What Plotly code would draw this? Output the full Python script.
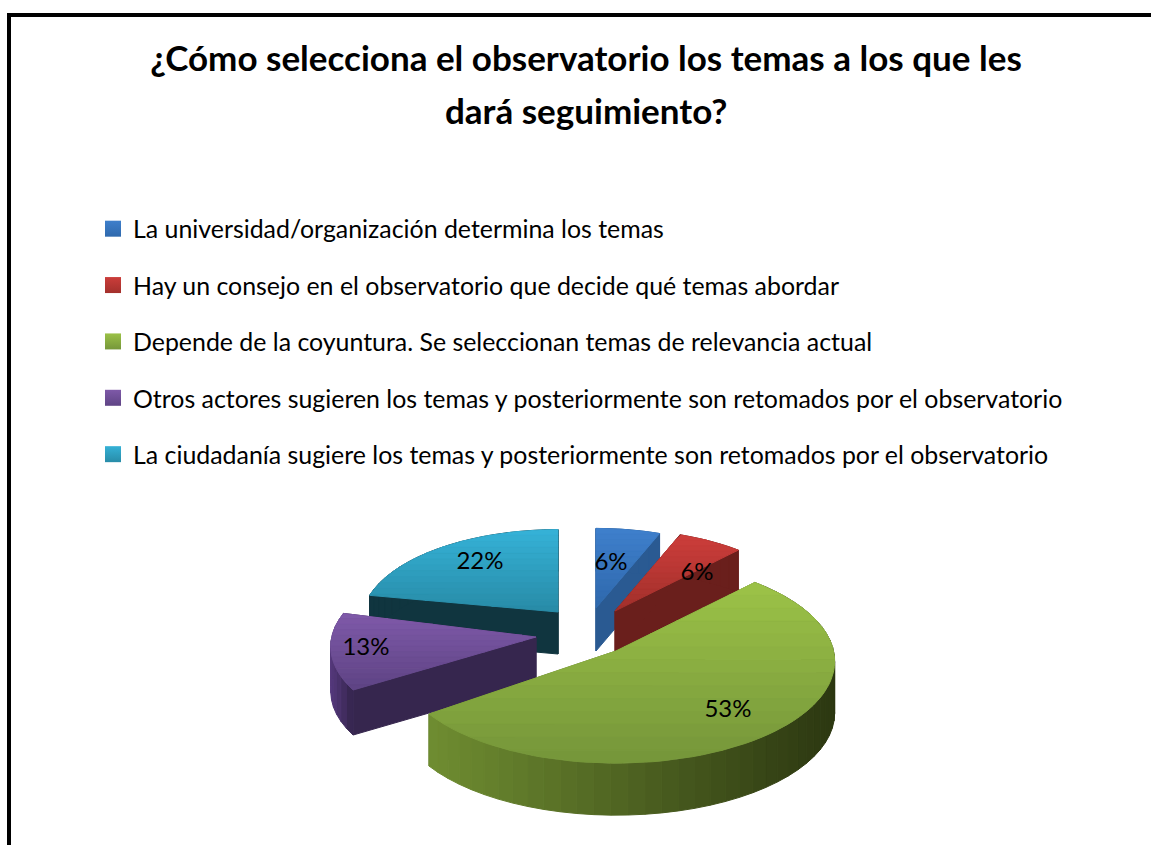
import numpy as np
import plotly.graph_objects as go

TITLE_LINE_1 = "¿Cómo selecciona el observatorio los temas a los que les"
TITLE_LINE_2 = "dará seguimiento?"
categories = [
    "La universidad/organización determina los temas",
    "Hay un consejo en el observatorio que decide qué temas abordar",
    "Depende de la coyuntura. Se seleccionan temas de relevancia actual",
    "Otros actores sugieren los temas y posteriormente son retomados por el observatorio",
    "La ciudadanía sugiere los temas y posteriormente son retomados por el observatorio",
]
values = [6, 6, 53, 13, 22]
labels = ["6%", "6%", "53%", "13%", "22%"]

top_light = ["#3E7FCB", "#CB3D3A", "#9BC147", "#7E59A8", "#35B1D6"]
top_dark = ["#2F69AD", "#A3302C", "#76973A", "#5F4485", "#288CA8"]
wall_cut = ["#2A5A92", "#6A1F1C", "#5A7228", "#36264E", "#10353F"]
wall_right = ["#2A5A92", "#6A1F1C", "#2C3711", "#33244B", "#10353F"]
wall_left = ["#2A5A92", "#6A1F1C", "#6F8D31", "#56397D", "#10353F"]

# projection and exploded layout of each slice (pixel frame of the page)
apex_x = [596, 615, 616, 536, 558]
apex_y = [608, 611, 651, 637, 612]
scale = [0.85, 0.87, 0.98, 0.92, 0.88]
turn = [0, 0, 0, 4, 0]
depth = [43, 42, 52, 45, 42]
label_dx = [15, 82, 112, -170, -78]
label_dy = [-44, -37, 60, 12, -49]
RX, RY, K = 222.0, 103.0, 0.1
DRAW_ORDER = [4, 0, 1, 3, 2]


def hex_rgb(c):
    return np.array([int(c[i:i + 2], 16) for i in (1, 3, 5)], float)


def mix(a, b, t):
    v = hex_rgb(a) * (1 - t) + hex_rgb(b) * t
    return "rgb(%d,%d,%d)" % tuple(np.round(v))


def project(i, ang_deg):
    a = np.radians(ang_deg + turn[i])
    X, Y = np.sin(a), np.cos(a)
    w = 1 + K * Y
    return apex_x[i] + scale[i] * RX * X / w, apex_y[i] - scale[i] * RY * Y / w


def clip_band(poly, y0, y1):
    def clip(pts, inside, cross):
        out = []
        for j in range(len(pts)):
            p, q = pts[j], pts[(j + 1) % len(pts)]
            if inside(p):
                out.append(p)
            if inside(p) != inside(q):
                out.append(cross(p, q))
        return out

    def at(yv):
        return lambda p, q: (p[0] + (yv - p[1]) / (q[1] - p[1]) * (q[0] - p[0]), yv)

    pts = clip(poly, lambda p: p[1] >= y0, at(y0))
    if pts:
        pts = clip(pts, lambda p: p[1] <= y1, at(y1))
    return pts


fig = go.Figure()


def add_poly(pts, color):
    xs = [p[0] for p in pts] + [pts[0][0]]
    ys = [p[1] for p in pts] + [pts[0][1]]
    fig.add_trace(go.Scatter(x=xs, y=ys, mode="lines", fill="toself", fillcolor=color,
                             line=dict(color=color, width=1), hoverinfo="skip", showlegend=False))


edges = np.concatenate([[0], np.cumsum(values)]) / sum(values) * 360.0

for i in DRAW_ORDER:
    a0, a1 = edges[i], edges[i + 1]
    d = depth[i]
    apex = (apex_x[i], apex_y[i])
    for ang in (a1, a0):
        p = project(i, ang)
        add_poly([apex, p, (p[0], p[1] + d), (apex[0], apex[1] + d)], wall_cut[i])
    nseg = max(6, int((a1 - a0) / 4))
    steps = np.linspace(a0, a1, nseg + 1)
    arc = [project(i, a) for a in np.linspace(a0, a1, 80)]
    xmin, xmax = min(p[0] for p in arc), max(p[0] for p in arc)
    for s in range(nseg):
        p, q = project(i, steps[s]), project(i, steps[s + 1])
        t = ((p[0] + q[0]) / 2 - xmin) / max(xmax - xmin, 1)
        add_poly([p, q, (q[0], q[1] + d), (p[0], p[1] + d)], mix(wall_left[i], wall_right[i], t))
    top = [apex] + arc
    ymin, ymax = min(p[1] for p in top), max(p[1] for p in top)
    bands = 14
    yb = np.linspace(ymin, ymax, bands + 1)
    for b in range(bands):
        piece = clip_band(top, yb[b], yb[b + 1])
        if len(piece) >= 3:
            add_poly(piece, mix(top_light[i], top_dark[i], b / (bands - 1)))

# value labels
fig.add_trace(go.Scatter(
    x=[apex_x[i] + label_dx[i] for i in range(5)],
    y=[apex_y[i] + label_dy[i] for i in range(5)],
    mode="text", text=labels, textposition="middle center",
    textfont=dict(family="Lato", size=24, color="#000000"),
    hoverinfo="skip", showlegend=False))

# legend entries
for i, name in enumerate(categories):
    fig.add_trace(go.Scatter(
        x=[None], y=[None], mode="markers", name=name, legendgroup=f"g{i}",
        marker=dict(symbol="square", size=16, color=top_light[i],
                    gradient=dict(type="vertical", color=top_dark[i]),
                    line=dict(width=0))))

fig.update_layout(
    width=1151, height=845, autosize=False,
    margin=dict(l=0, r=0, t=0, b=0),
    paper_bgcolor="#FFFFFF", plot_bgcolor="#FFFFFF",
    xaxis=dict(range=[0, 1151], visible=False, fixedrange=True),
    yaxis=dict(range=[845, 0], visible=False, fixedrange=True),
    title=dict(text=TITLE_LINE_1, x=586 / 1151, xanchor="center", y=1 - 59 / 845, yanchor="middle",
               font=dict(family="Lato", size=35, color="#000000", weight="bold")),
    annotations=[dict(text=TITLE_LINE_2, xref="paper", yref="paper", x=586 / 1151, y=1 - 110 / 845,
                      xanchor="center", yanchor="middle", showarrow=False,
                      font=dict(family="Lato", size=35, color="#000000", weight="bold"))],
    legend=dict(x=93 / 1151, xanchor="left", y=1 - 206 / 845, yanchor="top",
                bgcolor="rgba(0,0,0,0)", tracegroupgap=21,
                font=dict(family="Lato", size=24.9, color="#000000")),
    shapes=[
        dict(type="rect", xref="paper", yref="paper", x0=7 / 1151, x1=11 / 1151,
             y0=0, y1=1 - 13 / 845, fillcolor="#000000", line=dict(width=0), layer="above"),
        dict(type="rect", xref="paper", yref="paper", x0=7 / 1151, x1=1,
             y0=1 - 13 / 845, y1=1 - 17 / 845, fillcolor="#000000", line=dict(width=0), layer="above"),
    ],
)

fig.write_html("out.html", config=dict(displayModeBar=False),
               post_script="document.body.style.margin='0';document.body.style.overflow='hidden';")
